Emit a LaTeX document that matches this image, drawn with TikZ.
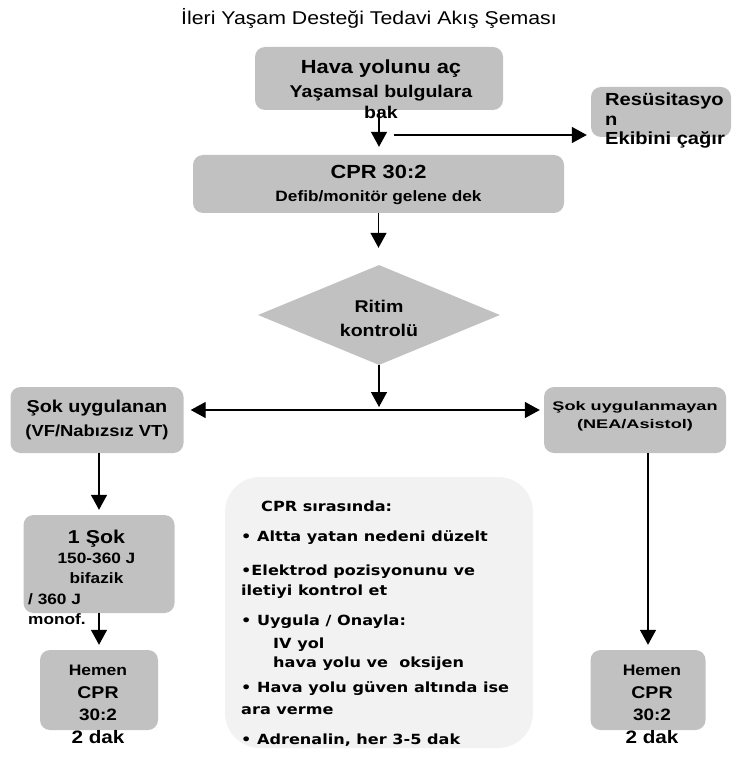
\documentclass[tikz,border=0pt]{standalone}
\usepackage{fontspec}
\setmainfont{Liberation Sans}[FakeStretch=1.15]
\newfontfamily\widefont{Liberation Sans}[FakeStretch=1.45]
\newfontfamily\notefont{DejaVu Sans}[FakeStretch=1.15]
\usetikzlibrary{arrows.meta,shapes.geometric}

\definecolor{boxgray}{RGB}{193,193,193}
\definecolor{notegray}{RGB}{242,242,242}

\begin{document}
\begin{tikzpicture}[x=1pt, y=-1pt,
    stepbox/.style={fill=boxgray, rounded corners=10pt, inner sep=0pt},
    txt/.style={inner sep=0pt, align=center, font=\bfseries},
    flow/.style={line width=1.4pt, -{Triangle[width=16pt,length=15pt]}}]
    \useasboundingbox (0,0) rectangle (738,759);

    \node[font=\fontsize{18.5}{20}\selectfont] (title) at (369,18) {İleri Yaşam Desteği Tedavi Akış Şeması};

    % kutular
    \node[fill=notegray, rounded corners=35pt, inner sep=0pt, minimum width=308pt, minimum height=271pt] (note) at (379,612.5) {};
    \node[stepbox, minimum width=248pt, minimum height=63pt] (hava) at (379,78.5) {};
    \node[stepbox, minimum width=140pt, minimum height=50pt] (ekip) at (661,112) {};
    \node[stepbox, minimum width=371pt, minimum height=58pt] (cpr) at (378.5,184) {};
    \node[diamond, fill=boxgray, inner sep=0pt, minimum width=242pt, minimum height=100pt] (ritim) at (379,315) {};
    \node[stepbox, minimum width=173pt, minimum height=66pt] (sok) at (97,420) {};
    \node[stepbox, minimum width=182pt, minimum height=66pt] (nosok) at (635,420) {};
    \node[stepbox, minimum width=151pt, minimum height=98pt] (tek) at (99,564) {};
    \node[stepbox, minimum width=118pt, minimum height=80pt] (hemenL) at (99,690) {};
    \node[stepbox, minimum width=115pt, minimum height=80pt] (hemenR) at (648,690) {};

    % oklar
    \coordinate (split) at (394,135);
    \coordinate (join) at (379,410);
    \draw[flow, shorten >=8pt] (hava.south) -- (hava.south |- cpr.north);
    \draw[flow, shorten >=4pt] (split) -- (split -| ekip.west);
    \draw[flow, shorten >=17pt] (cpr.south) -- (cpr.south |- ritim.north);
    \draw[flow, shorten >=3pt] (ritim.south) -- (join);
    \draw[flow, shorten >=7pt] (join) -- (join -| sok.east);
    \draw[flow, shorten >=4pt] (join) -- (join -| nosok.west);
    \draw[flow, shorten >=5pt] (tek.north |- sok.south) -- (tek.north);
    \draw[flow, shorten >=5pt] (tek.south) -- (hemenL.north);
    \draw[flow, shorten >=5pt] (hemenR.north |- nosok.south) -- (hemenR.north);

    % yazilar
    \node[txt, anchor=north, font=\bfseries\fontsize{17}{21}\selectfont] (hava-t) at (381,60)
        {{\fontsize{19}{21}\selectfont Hava yolunu aç}\\[3pt] Yaşamsal bulgulara\\ bak};
    \node[txt, anchor=north west, align=left, font=\bfseries\fontsize{17.5}{19.5}\selectfont] (ekip-t) at (605,93)
        {Resüsitasyo\\ n\\ Ekibini çağır};
    \node[txt, anchor=north, font=\bfseries\fontsize{15}{19}\selectfont] (cpr-t) at (378.5,165)
        {{\fontsize{19}{19}\selectfont CPR 30:2}\\[4.5pt] Defib/monitör gelene dek};
    \node[txt, anchor=north, font=\bfseries\fontsize{17}{24}\selectfont] (ritim-t) at (379,300)
        {Ritim\\ kontrolü};
    \node[txt, anchor=north, font=\bfseries\fontsize{16}{20}\selectfont] (sok-t) at (97,399.5)
        {{\fontsize{17.2}{20}\selectfont Şok uygulanan}\\[4.5pt] (VF/Nabızsız VT)};
    \node[txt, anchor=north, font=\widefont\bfseries\fontsize{12.5}{18}\selectfont] (nosok-t) at (635,401)
        {Şok uygulanmayan\\ (NEA/Asistol)};
    \node[txt, anchor=north, font=\bfseries\fontsize{15}{20}\selectfont] (tek-t) at (96.5,530)
        {{\fontsize{18.6}{20}\selectfont 1 Şok}\\ 150-360 J\\ bifazik};
    \node[txt, anchor=north west, align=left, font=\bfseries\fontsize{15}{20}\selectfont] (tek-b) at (28,593.5)
        {/ 360 J\\ monof.};
    \node[txt, anchor=north, font=\bfseries\fontsize{16}{22.5}\selectfont] (hemenL-t) at (98,665)
        {{\fontsize{15.2}{22.5}\selectfont Hemen}\\ {\fontsize{17}{22.5}\selectfont CPR}\\ {\fontsize{16.5}{22.5}\selectfont 30:2}\\ {\fontsize{18}{22.5}\selectfont 2 dak}};
    \node[txt, anchor=north, font=\bfseries\fontsize{16}{22.5}\selectfont] (hemenR-t) at (652,665)
        {{\fontsize{15.2}{22.5}\selectfont Hemen}\\ {\fontsize{17}{22.5}\selectfont CPR}\\ {\fontsize{16.5}{22.5}\selectfont 30:2}\\ {\fontsize{18}{22.5}\selectfont 2 dak}};
    \node[txt, anchor=north west, align=left, font=\notefont\bfseries\fontsize{14}{19.5}\selectfont] (note-t) at (241,501)
        {\hspace*{20pt}CPR sırasında:\\[10.5pt]
         • Altta yatan nedeni düzelt\\[13.8pt]
         •Elektrod pozisyonunu ve\\[1.2pt]
         iletiyi kontrol et\\[9.8pt]
         • Uygula / Onayla:\\[3.8pt]
         \hspace*{32pt}IV yol\\
         \hspace*{32pt}hava yolu ve\ \ oksijen\\[5.5pt]
         • Hava yolu güven altında ise\\[2.1pt]
         ara verme\\[10.5pt]
         • Adrenalin, her 3-5 dak};
\end{tikzpicture}
\end{document}
